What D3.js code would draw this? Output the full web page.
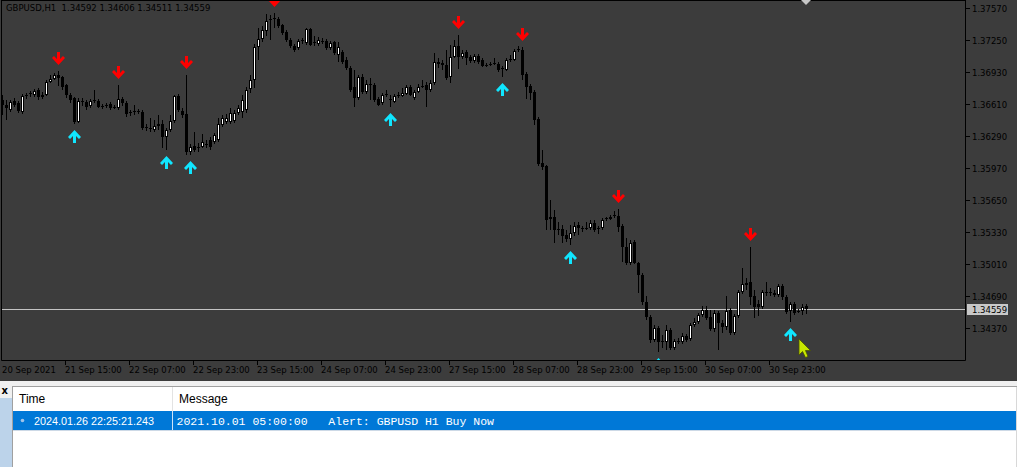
<!DOCTYPE html>
<html>
<head>
<meta charset="utf-8">
<script src="https://cdn.jsdelivr.net/npm/d3@7"></script>
<style>
body { margin: 0; background: #3c3c3c; overflow: hidden; }
text { font-family: "DejaVu Sans", sans-serif; }
</style>
</head>
<body>
<svg id="chart"></svg>
<script>
// GBPUSD H1, 20 Sep 2021 23:00 .. 1 Oct 2021 09:00
var opens = [
  1.3665,1.3660,1.3655,1.3664,1.3662,1.3653,1.3669,1.3671,1.3670,1.3675,
  1.3668,1.3670,1.3683,1.3686,1.3690,1.3688,1.3680,1.3670,1.3667,1.3643,
  1.3663,1.3663,1.3659,1.3664,1.3664,1.3658,1.3660,1.3661,1.3658,1.3657,
  1.3666,1.3662,1.3652,1.3653,1.3654,1.3653,1.3638,1.3636,1.3635,1.3639,
  1.3641,1.3628,1.3635,1.3644,1.3669,1.3654,1.3651,1.3613,1.3619,1.3617,
  1.3618,1.3620,1.3625,1.3623,1.3625,1.3640,1.3643,1.3643,1.3644,1.3652,
  1.3653,1.3655,1.3676,1.3685,1.3718,1.3726,1.3734,1.3745,1.3746,1.3746,
  1.3740,1.3733,1.3725,1.3719,1.3717,1.3724,1.3722,1.3736,1.3723,1.3721,
  1.3724,1.3724,1.3717,1.3723,1.3710,1.3713,1.3705,1.3697,1.3678,1.3667,
  1.3688,1.3673,1.3680,1.3680,1.3666,1.3662,1.3670,1.3666,1.3663,1.3669,
  1.3669,1.3671,1.3678,1.3667,1.3673,1.3678,1.3680,1.3675,1.3682,1.3703,
  1.3702,1.3700,1.3688,1.3708,1.3719,1.3708,1.3713,1.3708,1.3704,1.3709,
  1.3705,1.3700,1.3701,1.3701,1.3701,1.3696,1.3695,1.3705,1.3705,1.3715,
  1.3715,1.3691,1.3679,1.3673,1.3646,1.3602,1.3599,1.3546,1.3548,1.3536,
  1.3536,1.3530,1.3526,1.3532,1.3540,1.3536,1.3537,1.3537,1.3542,1.3536,
  1.3537,1.3546,1.3546,1.3549,1.3549,1.3539,1.3518,1.3502,1.3523,1.3502,
  1.3490,1.3463,1.3448,1.3425,1.3437,1.3423,1.3423,1.3435,1.3417,1.3424,
  1.3423,1.3429,1.3426,1.3440,1.3443,1.3450,1.3455,1.3448,1.3436,1.3452,
  1.3442,1.3438,1.3455,1.3432,1.3449,1.3473,1.3480,1.3483,1.3469,1.3461,
  1.3458,1.3473,1.3473,1.3472,1.3470,1.3479,1.3468,1.3454,1.3461,1.3454,
  1.3454,1.34592
];
var highs = [
  1.3670,1.3665,1.3665,1.3667,1.3664,1.3671,1.3672,1.3674,1.3676,1.3677,
  1.3673,1.3685,1.3690,1.3692,1.3694,1.3689,1.3681,1.3672,1.3668,1.3667,
  1.3667,1.3665,1.3666,1.3675,1.3666,1.3661,1.3662,1.3663,1.3660,1.3680,
  1.3668,1.3664,1.3655,1.3660,1.3656,1.3655,1.3641,1.3647,1.3645,1.3650,
  1.3645,1.3637,1.3650,1.3670,1.3671,1.3657,1.3690,1.3621,1.3633,1.3622,
  1.3631,1.3625,1.3628,1.3632,1.3647,1.3650,1.3651,1.3657,1.3655,1.3660,
  1.3670,1.3678,1.3690,1.3721,1.3737,1.3739,1.3751,1.3750,1.3752,1.3748,
  1.3741,1.3735,1.3727,1.3721,1.3726,1.3727,1.3737,1.3737,1.3729,1.3728,
  1.3727,1.3726,1.3724,1.3724,1.3723,1.3715,1.3708,1.3699,1.3695,1.3690,
  1.3691,1.3685,1.3687,1.3682,1.3668,1.3672,1.3675,1.3670,1.3671,1.3673,
  1.3677,1.3680,1.3680,1.3675,1.3681,1.3685,1.3683,1.3685,1.3712,1.3707,
  1.3705,1.3715,1.3720,1.3725,1.3730,1.3715,1.3715,1.3710,1.3711,1.3711,
  1.3707,1.3702,1.3703,1.3707,1.3703,1.3699,1.3707,1.3710,1.3716,1.3719,
  1.3718,1.3693,1.3681,1.3675,1.3648,1.3615,1.3600,1.3565,1.3555,1.3543,
  1.3540,1.3535,1.3540,1.3543,1.3543,1.3539,1.3543,1.3545,1.3545,1.3539,
  1.3547,1.3548,1.3550,1.3554,1.3556,1.3541,1.3527,1.3525,1.3525,1.3503,
  1.3492,1.3469,1.3450,1.3440,1.3439,1.3430,1.3440,1.3437,1.3426,1.3427,
  1.3432,1.3431,1.3442,1.3447,1.3452,1.3459,1.3459,1.3455,1.3455,1.3454,
  1.3445,1.3469,1.3457,1.3451,1.3475,1.3497,1.3487,1.3518,1.3475,1.3465,
  1.3475,1.3483,1.3477,1.3475,1.3481,1.3481,1.3470,1.3463,1.3463,1.3456,
  1.3461,1.34606
];
var lows = [
  1.3650,1.3645,1.3653,1.3658,1.3652,1.3651,1.3666,1.3668,1.3668,1.3665,
  1.3666,1.3669,1.3682,1.3685,1.3679,1.3675,1.3667,1.3662,1.3641,1.3642,
  1.3659,1.3655,1.3657,1.3662,1.3657,1.3656,1.3657,1.3655,1.3656,1.3655,
  1.3659,1.3648,1.3649,1.3650,1.3651,1.3635,1.3634,1.3633,1.3633,1.3635,
  1.3617,1.3615,1.3633,1.3642,1.3653,1.3647,1.3610,1.3610,1.3613,1.3613,
  1.3617,1.3617,1.3615,1.3621,1.3623,1.3638,1.3641,1.3641,1.3642,1.3650,
  1.3647,1.3652,1.3672,1.3677,1.3705,1.3723,1.3729,1.3725,1.3737,1.3737,
  1.3730,1.3723,1.3717,1.3713,1.3715,1.3721,1.3720,1.3719,1.3719,1.3719,
  1.3721,1.3715,1.3715,1.3710,1.3703,1.3701,1.3695,1.3673,1.3658,1.3665,
  1.3671,1.3671,1.3665,1.3663,1.3659,1.3660,1.3668,1.3658,1.3662,1.3667,
  1.3668,1.3670,1.3669,1.3665,1.3672,1.3677,1.3658,1.3673,1.3680,1.3697,
  1.3695,1.3685,1.3682,1.3707,1.3696,1.3706,1.3700,1.3702,1.3702,1.3701,
  1.3698,1.3698,1.3699,1.3700,1.3693,1.3688,1.3694,1.3703,1.3704,1.3713,
  1.3685,1.3666,1.3665,1.3640,1.3599,1.3595,1.3535,1.3535,1.3522,1.3530,
  1.3522,1.3523,1.3520,1.3529,1.3530,1.3533,1.3535,1.3535,1.3533,1.3531,
  1.3535,1.3544,1.3545,1.3547,1.3533,1.3503,1.3500,1.3500,1.3501,1.3472,
  1.3460,1.3445,1.3422,1.3423,1.3413,1.3417,1.3415,1.3415,1.3415,1.3421,
  1.3421,1.3423,1.3424,1.3438,1.3441,1.3448,1.3445,1.3434,1.3433,1.3415,
  1.3432,1.3435,1.3430,1.3430,1.3447,1.3471,1.3475,1.3460,1.3447,1.3449,
  1.3456,1.3469,1.3469,1.3468,1.3468,1.3465,1.3451,1.3443,1.3450,1.3452,
  1.3450,1.34511
];
var closes = [
  1.3660,1.3657,1.3663,1.3660,1.3654,1.3669,1.3670,1.3672,1.3674,1.3668,
  1.3670,1.3683,1.3686,1.3690,1.3687,1.3678,1.3670,1.3665,1.3643,1.3664,
  1.3664,1.3658,1.3664,1.3665,1.3658,1.3659,1.3659,1.3657,1.3657,1.3666,
  1.3662,1.3651,1.3653,1.3654,1.3653,1.3637,1.3637,1.3637,1.3639,1.3641,
  1.3628,1.3635,1.3644,1.3669,1.3655,1.3650,1.3613,1.3618,1.3615,1.3618,
  1.3623,1.3621,1.3618,1.3630,1.3641,1.3647,1.3647,1.3652,1.3652,1.3657,
  1.3665,1.3675,1.3685,1.3718,1.3726,1.3735,1.3744,1.3746,1.3747,1.3739,
  1.3732,1.3725,1.3719,1.3715,1.3724,1.3725,1.3736,1.3720,1.3722,1.3725,
  1.3723,1.3717,1.3722,1.3712,1.3718,1.3703,1.3697,1.3675,1.3667,1.3688,
  1.3673,1.3681,1.3681,1.3665,1.3660,1.3670,1.3671,1.3665,1.3669,1.3670,
  1.3672,1.3678,1.3670,1.3673,1.3678,1.3679,1.3675,1.3682,1.3703,1.3701,
  1.3700,1.3687,1.3708,1.3719,1.3708,1.3712,1.3707,1.3704,1.3709,1.3703,
  1.3699,1.3699,1.3700,1.3702,1.3695,1.3697,1.3705,1.3706,1.3714,1.3716,
  1.3690,1.3678,1.3672,1.3645,1.3601,1.3598,1.3545,1.3548,1.3535,1.3535,
  1.3529,1.3526,1.3532,1.3539,1.3537,1.3537,1.3536,1.3542,1.3535,1.3537,
  1.3545,1.3547,1.3548,1.3550,1.3538,1.3518,1.3502,1.3522,1.3502,1.3490,
  1.3463,1.3448,1.3425,1.3437,1.3423,1.3424,1.3435,1.3417,1.3424,1.3423,
  1.3429,1.3425,1.3440,1.3443,1.3450,1.3455,1.3447,1.3436,1.3452,1.3442,
  1.3438,1.3454,1.3432,1.3449,1.3473,1.3481,1.3482,1.3468,1.3458,1.3458,
  1.3473,1.3472,1.3472,1.3470,1.3479,1.3468,1.3453,1.3461,1.3452,1.3453,
  1.3458,1.34559
];
// bars where the indicator printed arrows
var sellBars = [14, 29, 46, 68, 114, 130, 154, 187];
var buyBars = [18, 41, 47, 97, 125, 142, 164, 197];

var timeLabels = ["20 Sep 2021","21 Sep 15:00","22 Sep 07:00","22 Sep 23:00","23 Sep 15:00",
  "24 Sep 07:00","24 Sep 23:00","27 Sep 15:00","28 Sep 07:00","28 Sep 23:00",
  "29 Sep 15:00","30 Sep 07:00","30 Sep 23:00"];
var priceTicks = [1.37570,1.37250,1.36930,1.36610,1.36290,1.35970,1.35650,1.35330,1.35010,1.34690,1.34370];
var lastPrice = 1.34559;
var headerText = "GBPUSD,H1  1.34592 1.34606 1.34511 1.34559";
var alertCols = ["Time", "Message"];
var alertTime = "2024.01.26 22:25:21.243";
var alertMsg = "2021.10.01 05:00:00   Alert: GBPUSD H1 Buy Now";

var W = 1017, H = 467;
var plotR = 965, plotB = 360;

var svg = d3.select("#chart").attr("width", W).attr("height", H);

var x = d3.scaleLinear().domain([0, opens.length - 1]).range([2, 806]);
var y = d3.scaleLinear().domain([1.3437, 1.3757]).range([328, 8]);

svg.append("rect").attr("width", W).attr("height", 381).attr("fill", "#3c3c3c");

svg.append("clipPath").attr("id", "plot")
    .append("rect").attr("x", 2).attr("y", 1).attr("width", plotR - 2).attr("height", plotB - 1);

// bid line
svg.append("line")
    .attr("x1", 2).attr("x2", plotR)
    .attr("y1", Math.round(y(lastPrice)) + 0.5).attr("y2", Math.round(y(lastPrice)) + 0.5)
    .attr("stroke", "#c4c4c4").attr("stroke-width", 1);

var plot = svg.append("g").attr("clip-path", "url(#plot)");
var candles = plot.append("g").attr("shape-rendering", "crispEdges");

var bars = d3.range(opens.length).map(function(i) {
    return {i: i, o: opens[i], h: highs[i], l: lows[i], c: closes[i]};
});

candles.selectAll(".wick").data(bars).enter().append("rect")
    .attr("x", function(d) { return Math.round(x(d.i)); })
    .attr("width", 1)
    .attr("y", function(d) { return Math.round(y(d.h)); })
    .attr("height", function(d) { return Math.max(1, Math.round(y(d.l)) - Math.round(y(d.h))); })
    .attr("fill", "#000");

function bodyTop(d) { return Math.round(y(Math.max(d.o, d.c))); }
function bodyH(d) { return Math.max(1, Math.round(y(Math.min(d.o, d.c))) - bodyTop(d)); }

candles.selectAll(".body").data(bars).enter().append("rect")
    .attr("x", function(d) { return Math.round(x(d.i)) - 1; })
    .attr("width", 3)
    .attr("y", bodyTop)
    .attr("height", bodyH)
    .attr("fill", "#000");

candles.selectAll(".fill").data(bars.filter(function(d) { return d.c > d.o && bodyH(d) > 2; }))
    .enter().append("rect")
    .attr("x", function(d) { return Math.round(x(d.i)); })
    .attr("width", 1)
    .attr("y", function(d) { return bodyTop(d) + 1; })
    .attr("height", function(d) { return bodyH(d) - 2; })
    .attr("fill", "#fff");

// signal arrows: thick stem + chevron head, tip at t, dir 1 = down, -1 = up
function arrow(cx, t, dir) {
    var pts = [[-1.5, -14], [1.5, -14], [1.5, -7], [4.5, -10], [6.5, -8], [0, -1], [-6.5, -8], [-4.5, -10], [-1.5, -7]];
    return "M" + pts.map(function(p) { return (cx + p[0]) + "," + (t + dir * p[1]); }).join("L") + "Z";
}

plot.selectAll(".sell").data(sellBars).enter().append("path")
    .attr("d", function(i) { return arrow(Math.round(x(i)) + 0.5, y(highs[i]) - 5, 1); })
    .attr("fill", "#ff0000");

plot.selectAll(".buy").data(buyBars).enter().append("path")
    .attr("d", function(i) { return arrow(Math.round(x(i)) + 0.5, y(lows[i]) + 5, -1); })
    .attr("fill", "#10e6ff");

// chart frame
svg.append("path")
    .attr("d", "M1.5,0V" + (plotB + 0.5) + "H" + (plotR + 0.5) + "V0M1.5,0.5H" + (plotR + 0.5))
    .attr("fill", "none").attr("stroke", "#000").attr("stroke-width", 1);

// shift marker
svg.append("path").attr("d", "M801,0H811L806,5Z").attr("fill", "#c8c8c8");

// price axis
var pAxis = svg.append("g");
pAxis.selectAll("line").data(priceTicks).enter().append("line")
    .attr("x1", plotR).attr("x2", plotR + 5)
    .attr("y1", function(d) { return Math.round(y(d)) + 0.5; })
    .attr("y2", function(d) { return Math.round(y(d)) + 0.5; })
    .attr("stroke", "#000");
pAxis.selectAll("text").data(priceTicks).enter().append("text")
    .attr("x", plotR + 7)
    .attr("y", function(d) { return y(d) + 3.5; })
    .attr("font-size", "8.5px").attr("fill", "#000")
    .text(function(d) { return d.toFixed(5); });

svg.append("rect")
    .attr("x", plotR + 2).attr("y", Math.round(y(lastPrice)) - 5)
    .attr("width", 41).attr("height", 11).attr("fill", "#c8c8c8");
svg.append("text")
    .attr("x", plotR + 7).attr("y", y(lastPrice) + 3.5)
    .attr("font-size", "8.5px").attr("fill", "#000")
    .text(lastPrice.toFixed(5));

// time axis
var tAxis = svg.append("g");
tAxis.selectAll("line").data(timeLabels.slice(1)).enter().append("line")
    .attr("x1", function(d, k) { return Math.round(x((k + 1) * 16)) - 0.5; })
    .attr("x2", function(d, k) { return Math.round(x((k + 1) * 16)) - 0.5; })
    .attr("y1", plotB).attr("y2", plotB + 5)
    .attr("stroke", "#000");
tAxis.selectAll("text").data(timeLabels).enter().append("text")
    .attr("x", function(d, k) { return k === 0 ? 2 : Math.round(x(k * 16)) - 1; })
    .attr("y", 373)
    .attr("font-size", "8.5px").attr("fill", "#000")
    .text(function(d) { return d; });

svg.append("text").attr("x", 6).attr("y", 10.5)
    .attr("font-size", "8.5px").attr("fill", "#000")
    .attr("xml:space", "preserve").style("white-space", "pre")
    .text(headerText);

// mouse cursor
svg.append("path")
    .attr("d", "M799,339V355L802.5,351.5L805.5,357.5L808,356.5L805.5,350.5H810.5Z")
    .attr("fill", "#c8e600").attr("stroke", "#4a5200").attr("stroke-width", 0.8);

// alerts panel
var panel = svg.append("g").attr("shape-rendering", "crispEdges");
panel.append("rect").attr("y", 381).attr("width", W).attr("height", H - 381).attr("fill", "#f0f0f0");
panel.append("rect").attr("x", 0).attr("y", 398).attr("width", 12).attr("height", H - 398).attr("fill", "#bcd3ea");
panel.append("rect").attr("x", 13).attr("y", 387).attr("width", W - 14).attr("height", H - 387).attr("fill", "#fff");
panel.append("path").attr("d", "M12.5,467V386.5H1017").attr("fill", "none").attr("stroke", "#a0a0a0");
panel.append("line").attr("x1", 1016.5).attr("x2", 1016.5).attr("y1", 387).attr("y2", H).attr("stroke", "#d8d8d8");
panel.append("line").attr("x1", 172.5).attr("x2", 172.5).attr("y1", 387).attr("y2", 411).attr("stroke", "#e3e3e3");
panel.append("rect").attr("x", 13).attr("y", 411).attr("width", W - 14).attr("height", 19).attr("fill", "#0078d7");
panel.append("line").attr("x1", 172.5).attr("x2", 172.5).attr("y1", 411).attr("y2", 430).attr("stroke", "#cfe3f7");
panel.append("line").attr("x1", 13).attr("x2", W - 1).attr("y1", 430.5).attr("y2", 430.5).attr("stroke", "#cdd9e6");

svg.append("text").attr("x", 1.5).attr("y", 394)
    .attr("font-size", "10px").attr("font-weight", "bold").attr("fill", "#000").text("x");

svg.selectAll(".colhead").data(alertCols).enter().append("text")
    .attr("x", function(d, k) { return k === 0 ? 19 : 179; })
    .attr("y", 403)
    .style("font-family", "'Liberation Sans', sans-serif").attr("font-size", "12px").attr("fill", "#000")
    .text(function(d) { return d; });

svg.append("circle").attr("cx", 22.5).attr("cy", 420.5).attr("r", 1.8).attr("fill", "#9fc3e8");
svg.append("text").attr("x", 34).attr("y", 425)
    .style("font-family", "'Liberation Sans', sans-serif").attr("font-size", "11.5px").attr("fill", "#fff")
    .attr("textLength", 120).attr("lengthAdjust", "spacingAndGlyphs")
    .text(alertTime);
svg.append("text").attr("x", 176.5).attr("y", 425)
    .style("font-family", "'Liberation Mono', monospace").attr("font-size", "11.5px").attr("fill", "#fff")
    .attr("xml:space", "preserve").style("white-space", "pre")
    .text(alertMsg);
</script>
</body>
</html>
